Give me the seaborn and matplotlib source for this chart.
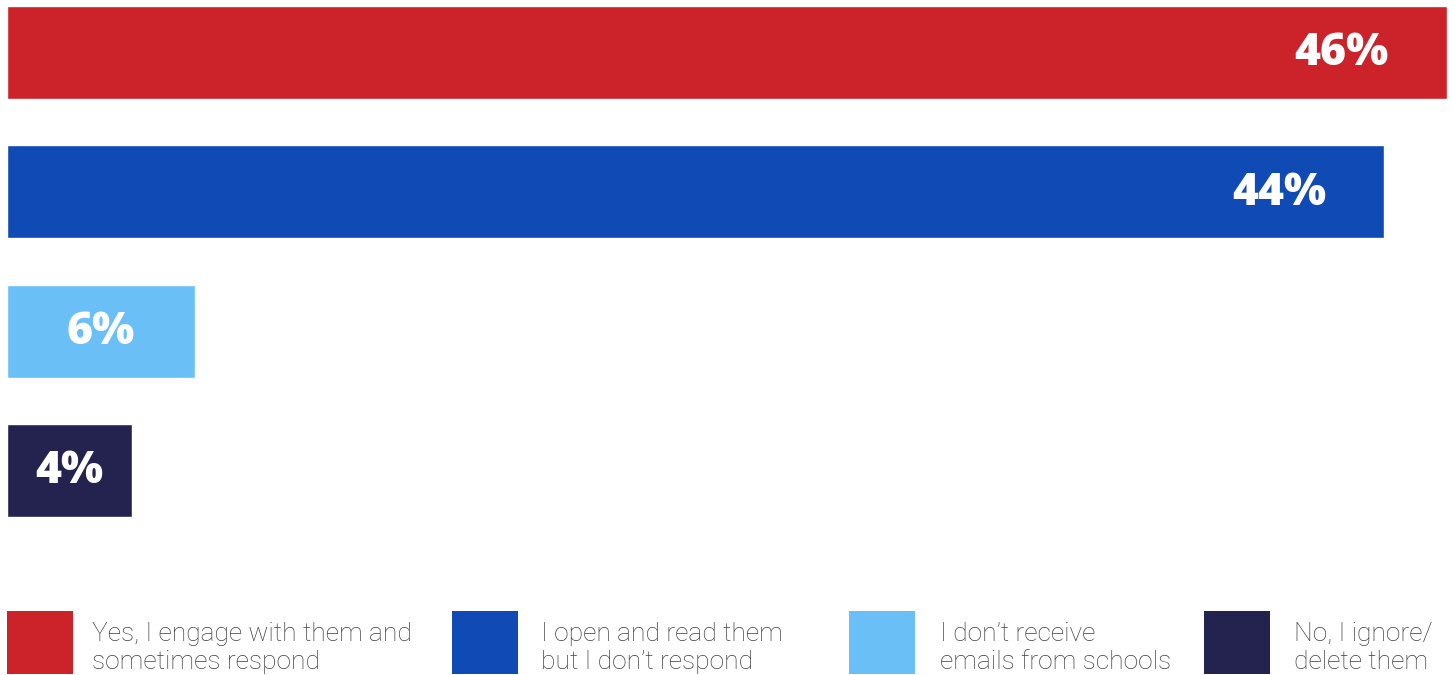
import matplotlib
matplotlib.use("Agg")
import matplotlib.pyplot as plt
from matplotlib.patches import Rectangle
import seaborn as sns
import pandas as pd

categories = [
    "Yes, I engage with them and\nsometimes respond",
    "I open and read them\nbut I don\u2019t respond",
    "I don\u2019t receive\nemails from schools",
    "No, I ignore/\ndelete them",
]
values = [46, 44, 6, 4]
labels = ["46%", "44%", "6%", "4%"]
colors = ["#CC2229", "#104BB5", "#6BBFF7", "#24234F"]

df = pd.DataFrame({"category": categories, "value": values})

sns.set_theme(style="white")
plt.rcParams["font.family"] = ["Lato", "DejaVu Sans"]

W, H = 1452, 675
fig = plt.figure(figsize=(W / 100, H / 100), dpi=100)
ax = fig.add_axes([7 / W, 1 - 560 / H, 1440 / W, 560 / H])

sns.barplot(data=df, x="value", y="category", hue="category",
            palette=colors, orient="h", width=0.667, legend=False,
            saturation=1, ax=ax)

ax.set_xlim(0, 46)
ax.set_ylim(3.642, -0.377)
ax.axis("off")

label_font = dict(color="white", fontsize=32, fontweight=800,
                  family=["Open Sans", "DejaVu Sans"])
for i, (v, lab) in enumerate(zip(values, labels)):
    if v >= 10:
        ax.annotate(lab, xy=(v, i), xytext=(-42, -1), textcoords="offset points",
                    ha="right", va="center", **label_font)
    else:
        ax.annotate(lab, xy=(v / 2, i), xytext=(0, -1), textcoords="offset points",
                    ha="center", va="center", **label_font)

# Legend row: colour swatch followed by a two-line caption
lax = fig.add_axes([0, 0, 1, 1], facecolor="none")
lax.set_xlim(0, W)
lax.set_ylim(H, 0)
lax.axis("off")
entry_x = [7, 452, 849, 1204]
text_gap = [85, 89, 91, 90]
for x0, gap, c, cat in zip(entry_x, text_gap, colors, categories):
    lax.add_patch(Rectangle((x0, 611), 66, 63, facecolor=c, edgecolor="none"))
    lax.text(x0 + gap, 648, cat, ha="left", va="center", fontsize=19,
             color="#3f3f3f", linespacing=1.2,
             family=["Roboto", "DejaVu Sans"], fontweight="light")

fig.savefig("out.png", dpi=100)
